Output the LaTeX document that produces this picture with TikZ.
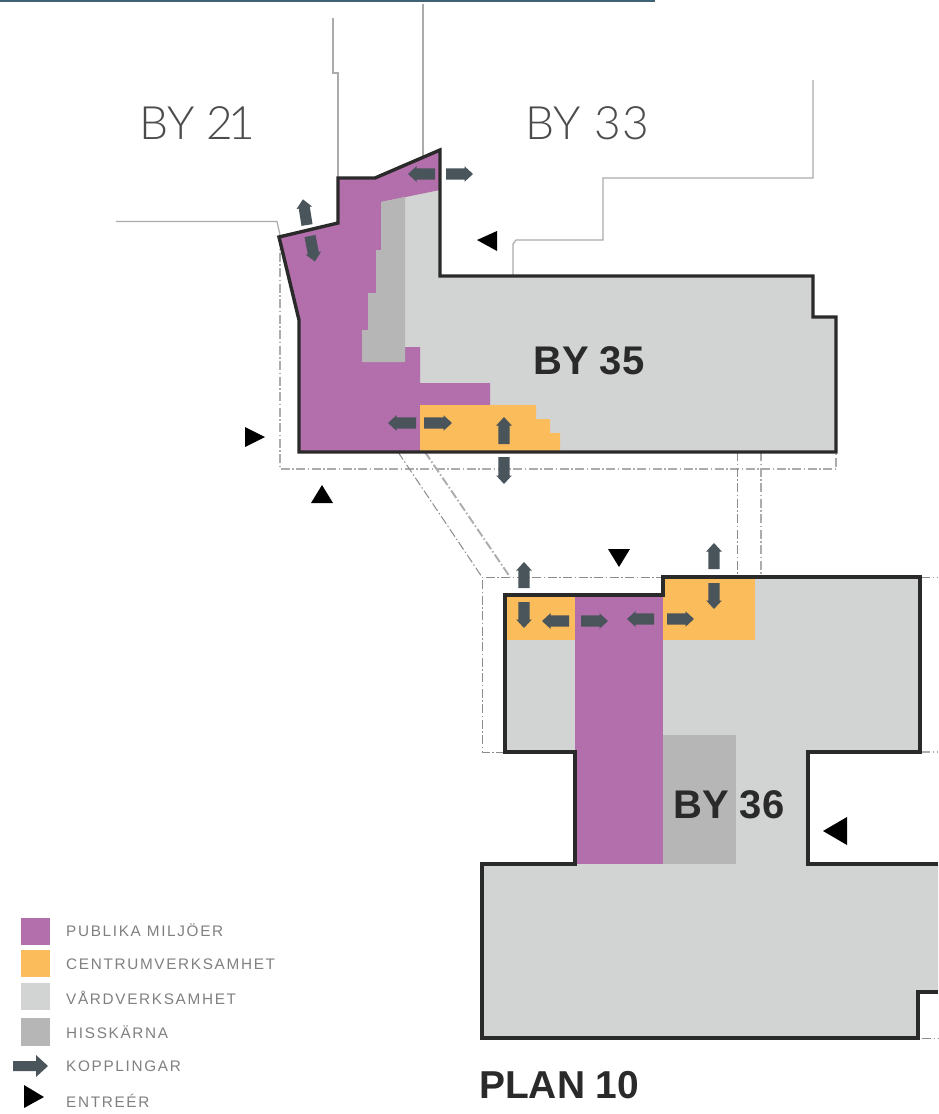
\documentclass[tikz,border=0pt]{standalone}
\usepackage{fontspec}
\setmainfont{Liberation Sans}
\newfontfamily\legfont[LetterSpace=11]{Liberation Sans}
\newfontfamily\lightfont{Lato Light}
\definecolor{pub}{HTML}{B26FAB}
\definecolor{cen}{HTML}{FBBC5C}
\definecolor{vard}{HTML}{D2D4D3}
\definecolor{hiss}{HTML}{B5B6B5}
\definecolor{outl}{HTML}{2B2A2B}
\definecolor{arrc}{HTML}{4A555B}
\definecolor{thinl}{HTML}{ABABAB}
\definecolor{topbar}{HTML}{3F6275}
\newcommand{\blockarrow}[4]{%
  \fill[arrc,shift={(#1,#2)},rotate=#3] (0,-5.6) -- (#4-8.5,-5.6) -- (#4-8.5,-7.8) -- (#4,0) -- (#4-8.5,7.8) -- (#4-8.5,5.6) -- (0,5.6) -- cycle;}
\tikzset{
  outline/.style={draw=outl,line width=3.4pt,line join=miter},
  thinline/.style={draw=thinl,line width=1.2pt},
  dashline/.style={draw=gray!90,line width=1pt,dash pattern=on 9pt off 2.5pt on 1.5pt off 2.5pt},
  dashthick/.style={draw=gray!65,line width=1.9pt,dash pattern=on 9pt off 2.5pt on 1.5pt off 2.5pt},
  tri/.style={fill=black},
  bytitle/.style={font=\fontsize{46}{46}\lightfont,text=black!70,inner sep=0,anchor=base west},
  bybold/.style={font=\fontsize{40}{40}\selectfont\bfseries,text=outl,inner sep=0,anchor=base west},
  legtext/.style={font=\fontsize{15.3}{15.3}\legfont,text=black!50,inner sep=0,anchor=west}
}
\begin{document}
\begin{tikzpicture}[x=1pt,y=-1pt]
\useasboundingbox (0,0) rectangle (938,1114);
\fill[white] (0,0) rectangle (938,1114);
\fill[topbar] (0,0) rectangle (655,2);
% thin site lines
\draw[thinline] (116,221.5) -- (277,221.5) -- (280,235);
\draw[thinline] (333,18) -- (333,73) -- (338,73) -- (338,178);
\draw[thinline] (423,4) -- (423,156);
\draw[thinline] (513,276) -- (513,244) -- (516,240) -- (603,240) -- (603,178) -- (813,178) -- (813,80);
% dash lines
\draw[dashthick] (280,237) -- (280,469) -- (836,469) -- (836,452);
\draw[dashline] (398,452) -- (482,577);
\draw[dashthick] (425,452) -- (510,577);
\draw[dashline] (737,452) -- (737,577);
\draw[dashthick] (761,452) -- (761,577);
\draw[dashline] (505,752) -- (482,752) -- (482,577) -- (663,577);
\draw[dashline] (921,577) -- (938,577);
\draw[dashthick] (921,752) -- (938,752);
\draw[dashline] (922,1038) -- (938,1038);
% BY 35
\fill[vard] (279,237) -- (338,223) -- (338,178) -- (375,178) -- (440,150) -- (440,276) -- (813,276) -- (813,317) -- (836,317) -- (836,452) -- (299,452) -- (299,320) -- cycle;
\fill[pub] (279,237) -- (338,223) -- (338,178) -- (375,178) -- (440,150) -- (440,190) -- (381,202) -- (381,250) -- (376,250) -- (376,293) -- (368,293) -- (368,330) -- (362,330) -- (362,362) -- (405,362) -- (405,347) -- (420,347) -- (420,383) -- (490,383) -- (490,405) -- (420,405) -- (420,452) -- (299,452) -- (299,320) -- cycle;
\fill[hiss] (381,202) -- (405,197) -- (405,362) -- (362,362) -- (362,330) -- (368,330) -- (368,293) -- (376,293) -- (376,250) -- (381,250) -- cycle;
\fill[cen] (420,405) -- (536,405) -- (536,419) -- (550,419) -- (550,433) -- (560,433) -- (560,452) -- (420,452) -- cycle;
\draw[outline] (279,237) -- (338,223) -- (338,178) -- (375,178) -- (440,150) -- (440,276) -- (813,276) -- (813,317) -- (836,317) -- (836,452) -- (299,452) -- (299,320) -- cycle;
% BY 36
\fill[vard] (505,595) -- (663,595) -- (663,577) -- (920,577) -- (920,752) -- (808,752) -- (808,864) -- (938,864) -- (938,992) -- (918,992) -- (918,1038) -- (482,1038) -- (482,864) -- (575,864) -- (575,752) -- (505,752) -- cycle;
\fill[pub] (575,595) rectangle (663,864);
\fill[hiss] (663,735) rectangle (736,864);
\fill[cen] (505,595) rectangle (575,640);
\fill[cen] (663,577) rectangle (755,640);
\draw[outline] (938,864) -- (808,864) -- (808,752) -- (920,752) -- (920,577) -- (663,577) -- (663,595) -- (505,595) -- (505,752) -- (575,752) -- (575,864) -- (482,864) -- (482,1038) -- (918,1038) -- (918,992) -- (938,992);
% arrows BY 35
\blockarrow{435}{174}{180}{27}
\blockarrow{446}{174}{0}{27}
\blockarrow{307}{225}{99}{26}
\blockarrow{310}{236}{-79}{26}
\blockarrow{416}{423}{180}{28}
\blockarrow{424}{423}{0}{28}
\blockarrow{504}{444}{90}{27}
\blockarrow{504}{457}{-90}{27}
% arrows BY 36
\blockarrow{524}{588}{90}{26}
\blockarrow{524}{602}{-90}{26}
\blockarrow{569}{621}{180}{27}
\blockarrow{581}{621}{0}{27}
\blockarrow{654}{619}{180}{27}
\blockarrow{667}{619}{0}{27}
\blockarrow{714}{569}{90}{26}
\blockarrow{714}{583}{-90}{26}
% entrances
\fill[tri] (477,240) -- (497,231) -- (497,251) -- cycle;
\fill[tri] (245,427) -- (265,437) -- (245,447) -- cycle;
\fill[tri] (322,485) -- (333,503) -- (311,503) -- cycle;
\fill[tri] (608,549) -- (630,549) -- (619,567) -- cycle;
\fill[tri] (823,831) -- (847,817) -- (847,845) -- cycle;
% titles
\node[bytitle] (by21) at (139,139) {BY\kern-1pt{} 2\kern-4pt{}1};
\node[bytitle] (by33) at (525,139) {BY\kern1pt{} 3\kern2pt{}3};
\node[bybold] (by35) at (533,374) {BY 35};
\node[bybold] (by36) at (673,818) {BY 36};
\node[bybold,font=\fontsize{38.9}{38.9}\selectfont\bfseries] (plan) at (479,1098) {PLAN 10};
% legend
\fill[pub] (21,918) rectangle (50,945);
\fill[cen] (21,950) rectangle (50,977);
\fill[vard] (21,983) rectangle (50,1010);
\fill[hiss] (21,1018) rectangle (50,1046);
\fill[arrc] (13,1061) -- (36,1061) -- (36,1055) -- (48,1066) -- (36,1077) -- (36,1071) -- (13,1071) -- cycle;
\fill[tri] (24,1085) -- (44,1097) -- (24,1108) -- cycle;
\node[legtext] (l1) at (66,930) {PUBLIKA MILJÖER};
\node[legtext] (l2) at (66,964) {CENTRUMVERKSAMHET};
\node[legtext] (l3) at (66,998) {VÅRDVERKSAMHET};
\node[legtext] (l4) at (66,1032) {HISSKÄRNA};
\node[legtext] (l5) at (66,1066) {KOPPLINGAR};
\node[legtext] (l6) at (66,1101) {ENTREÉR};
\end{tikzpicture}
\end{document}
